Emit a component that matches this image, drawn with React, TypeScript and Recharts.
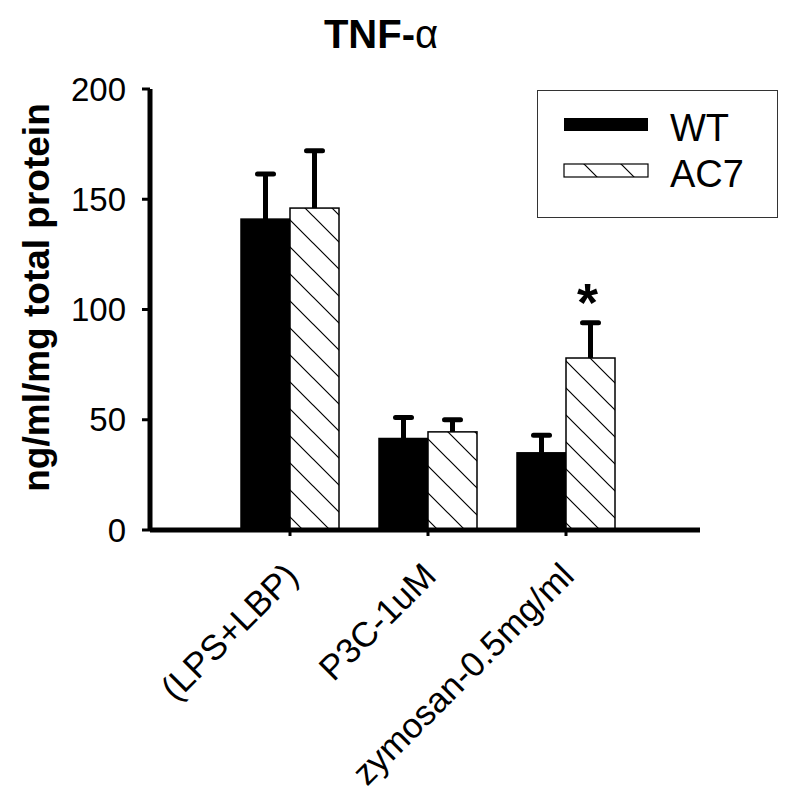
import { BarChart, Bar, XAxis, YAxis, Legend } from 'recharts'

const categories = ['(LPS+LBP)', 'P3C-1uM', 'zymosan-0.5mg/ml']
const wtMean = [141, 41.5, 35]
const wtErr = [20.5, 9.5, 8]
const ac7Mean = [146, 44.5, 78]
const ac7Err = [26, 5.5, 16]
const significance = ['', '', '*']
const yTicks = [0, 50, 100, 150, 200]

const data = categories.map((name, i) => ({
  name,
  WT: wtMean[i],
  AC7: ac7Mean[i],
  wtErr: wtErr[i],
  ac7Err: ac7Err[i],
  sig: significance[i],
}))

const FONT = '"Liberation Sans", Arial, Helvetica, sans-serif'

// bar + one-sided (upper) error bar, error length scaled from the bar's own px/unit
function barShape(errKey: 'wtErr' | 'ac7Err', fill: string) {
  return (props: any) => {
    const { x, y, width, height, payload, value } = props
    const v = Array.isArray(value) ? value[1] - value[0] : value
    const k = v ? height / v : 0
    const cx = x + width / 2
    const top = y - payload[errKey] * k
    return (
      <g>
        <rect x={x} y={y} width={width} height={height} fill={fill} stroke="#000" strokeWidth={1.5} />
        <line x1={cx} x2={cx} y1={y} y2={top} stroke="#000" strokeWidth={5} />
        <line x1={cx - 8} x2={cx + 8} y1={top} y2={top} stroke="#000" strokeWidth={5} strokeLinecap="round" />
        {errKey === 'ac7Err' && payload.sig ? (
          <text x={cx - 3} y={top - 2} textAnchor="middle" fontFamily={FONT} fontWeight="bold" fontSize={54} fill="#000">
            {payload.sig}
          </text>
        ) : null}
      </g>
    )
  }
}

const XTick = ({ x, y, payload }: any) => (
  <g transform={`translate(${x + 10},${y + 40}) rotate(-45)`}>
    <text x={0} y={0} textAnchor="end" fontFamily={FONT} fontSize={35} fill="#000">
      {payload.value}
    </text>
  </g>
)

const renderLegend = () => (
  <div style={{ width: 241, height: 128, border: '1.5px solid #333', boxSizing: 'border-box', background: '#fff' }}>
    <svg width={241} height={128}>
      <rect x={26} y={27} width={84} height={13} fill="#000" />
      <text x={132} y={50} fontFamily={FONT} fontSize={38} fill="#000">WT</text>
      <rect x={26} y={73} width={84} height={13} fill="url(#hatchSmall)" stroke="#000" strokeWidth={1.2} />
      <text x={132} y={96} fontFamily={FONT} fontSize={38} fill="#000">AC7</text>
    </svg>
  </div>
)

export default function App() {
  return (
    <div style={{ position: 'absolute', left: 0, top: 0, width: 795, height: 808, background: '#fff' }}>
      <svg width={0} height={0} style={{ position: 'absolute' }}>
        <defs>
          <pattern id="hatch" patternUnits="userSpaceOnUse" width={27} height={27} patternTransform="translate(16,0)">
            <rect width={27} height={27} fill="#fff" />
            <path d="M-7,20 L7,34 M0,0 L27,27 M20,-7 L34,7" stroke="#000" strokeWidth={1.2} />
          </pattern>
          <pattern id="hatchSmall" patternUnits="userSpaceOnUse" width={37} height={37} patternTransform="translate(10,0)">
            <rect width={37} height={37} fill="#fff" />
            <path d="M-10,27 L10,47 M0,0 L37,37 M27,-10 L47,10" stroke="#000" strokeWidth={1.2} />
          </pattern>
        </defs>
      </svg>
      <div
        style={{
          position: 'absolute', left: 281, top: 14, width: 200, textAlign: 'center',
          fontFamily: FONT, fontSize: 40, fontWeight: 'bold', lineHeight: 1,
        }}
      >
        TNF-<span style={{ fontWeight: 'normal' }}>α</span>
      </div>
      <BarChart
        width={795}
        height={808}
        data={data}
        barGap={0}
        barSize={49}
        margin={{ top: 89, right: 95, bottom: 78, left: 70 }}
      >
        <XAxis
          dataKey="name"
          height={200}
          padding={{ left: 71, right: 65 }}
          axisLine={{ stroke: '#000', strokeWidth: 5 }}
          tickLine={{ stroke: '#000', strokeWidth: 3 }}
          tickSize={6}
          interval={0}
          tick={<XTick />}
        />
        <YAxis
          width={80}
          domain={[0, 200]}
          ticks={yTicks}
          axisLine={{ stroke: '#000', strokeWidth: 5 }}
          tickLine={{ stroke: '#000', strokeWidth: 3 }}
          tickSize={8}
          tickMargin={16}
          tick={{ fill: '#000', fontSize: 33, fontFamily: FONT }}
          label={{
            value: 'ng/ml/mg total protein', angle: -90, position: 'center', dx: -74, dy: -12,
            style: { fontFamily: FONT, fontSize: 37, fontWeight: 'bold', fill: '#000' },
          }}
        />
        <Legend
          layout="horizontal"
          verticalAlign="middle"
          align="center"
          content={renderLegend}
          wrapperStyle={{ position: 'absolute', left: 537, top: 90, width: 241, height: 128 }}
        />
        <Bar dataKey="WT" fill="#000" isAnimationActive={false} shape={barShape('wtErr', '#000')} />
        <Bar dataKey="AC7" fill="url(#hatch)" isAnimationActive={false} shape={barShape('ac7Err', 'url(#hatch)')} />
      </BarChart>
    </div>
  )
}
